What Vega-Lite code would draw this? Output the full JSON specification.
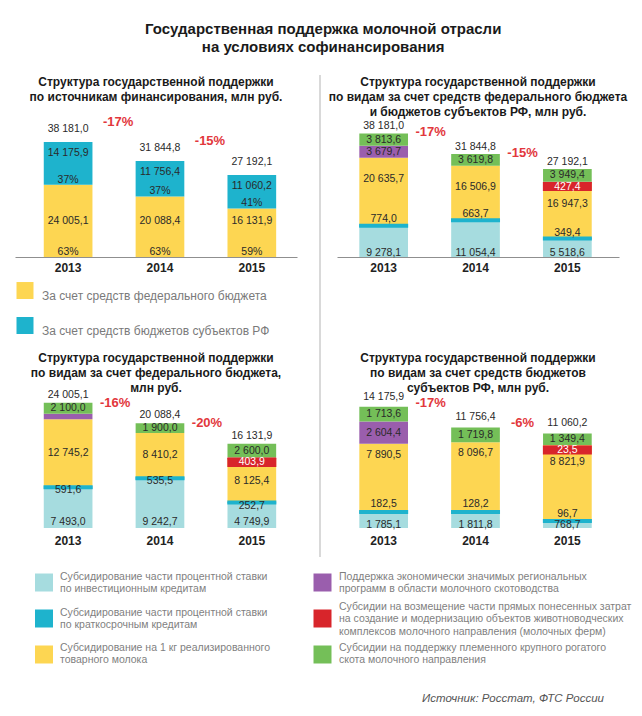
{
  "$schema": "https://vega.github.io/schema/vega-lite/v6.json",
  "padding": {"left": 15, "top": 22, "right": 5, "bottom": 5},
  "title": {"text": ["Государственная поддержка молочной отрасли", "на условиях софинансирования"], "fontSize": 15, "lineHeight": 18, "offset": 19, "anchor": "middle", "color": "#1a1a1a", "fontWeight": "bold"},
  "config": {
    "font": "Liberation Sans",
    "view": {"stroke": null},
    "locale": {"number": {"decimal": ",", "thousands": " ", "grouping": [3], "currency": ["", ""]}},
    "axisX": {"domainColor": "#8f8f8f", "domainWidth": 1, "ticks": false, "grid": false, "labelAngle": 0, "labelFontSize": 12, "labelFontWeight": "bold", "labelColor": "#222222", "labelPadding": 5},
    "text": {"fontSize": 10.5, "color": "#2a2a2a"}
  },
  "datasets": {
    "subtitles": [
      {"panel": "p1", "subtitle": "Структура государственной поддержки\nпо источникам финансирования, млн руб."},
      {"panel": "p2", "subtitle": "Структура государственной поддержки\nпо видам за счет средств федерального бюджета\nи бюджетов субъектов РФ, млн руб."},
      {"panel": "p3", "subtitle": "Структура государственной поддержки\nпо видам за счет федерального бюджета,\nмлн руб."},
      {"panel": "p4", "subtitle": "Структура государственной поддержки\nпо видам за счет средств бюджетов\nсубъектов РФ, млн руб."}
    ],
    "src": [
      {"year": "2013", "series": "fed", "value": 24005.1, "share": 0.63},
      {"year": "2013", "series": "sub", "value": 14175.9, "share": 0.37},
      {"year": "2014", "series": "fed", "value": 20088.4, "share": 0.63},
      {"year": "2014", "series": "sub", "value": 11756.4, "share": 0.37},
      {"year": "2015", "series": "fed", "value": 16131.9, "share": 0.59},
      {"year": "2015", "series": "sub", "value": 11060.2, "share": 0.41}
    ],
    "types_src": [
      {"key": "fed", "rank": 1, "label": "За счет средств федерального бюджета"},
      {"key": "sub", "rank": 2, "label": "За счет средств бюджетов субъектов РФ"}
    ],
    "types": [
      {"key": "inv", "rank": 1, "label": "Субсидирование части процентной ставки\nпо инвестиционным кредитам"},
      {"key": "short", "rank": 2, "label": "Субсидирование части процентной ставки\nпо краткосрочным кредитам"},
      {"key": "milk", "rank": 3, "label": "Субсидирование на 1 кг реализированного\nтоварного молока"},
      {"key": "reg", "rank": 4, "label": "Поддержка экономически значимых региональных\nпрограмм в области молочного скотоводства"},
      {"key": "farm", "rank": 5, "label": "Субсидии на возмещение части прямых понесенных затрат\nна создание и модернизацию объектов животноводческих\nкомплексов молочного направления (молочных ферм)"},
      {"key": "breed", "rank": 6, "label": "Субсидии на поддержку племенного крупного рогатого\nскота молочного направления"}
    ],
    "all": [
      {"year": "2013", "series": "inv", "value": 9278.1},
      {"year": "2013", "series": "short", "value": 774.0},
      {"year": "2013", "series": "milk", "value": 20635.7},
      {"year": "2013", "series": "reg", "value": 3679.7},
      {"year": "2013", "series": "breed", "value": 3813.6},
      {"year": "2014", "series": "inv", "value": 11054.4},
      {"year": "2014", "series": "short", "value": 663.7},
      {"year": "2014", "series": "milk", "value": 16506.9},
      {"year": "2014", "series": "breed", "value": 3619.8},
      {"year": "2015", "series": "inv", "value": 5518.6},
      {"year": "2015", "series": "short", "value": 349.4},
      {"year": "2015", "series": "milk", "value": 16947.3},
      {"year": "2015", "series": "farm", "value": 427.4},
      {"year": "2015", "series": "breed", "value": 3949.4}
    ],
    "fedb": [
      {"year": "2013", "series": "inv", "value": 7493.0},
      {"year": "2013", "series": "short", "value": 591.6},
      {"year": "2013", "series": "milk", "value": 12745.2},
      {"year": "2013", "series": "reg", "value": 1075.3},
      {"year": "2013", "series": "breed", "value": 2100.0},
      {"year": "2014", "series": "inv", "value": 9242.7},
      {"year": "2014", "series": "short", "value": 535.5},
      {"year": "2014", "series": "milk", "value": 8410.2},
      {"year": "2014", "series": "breed", "value": 1900.0},
      {"year": "2015", "series": "inv", "value": 4749.9},
      {"year": "2015", "series": "short", "value": 252.7},
      {"year": "2015", "series": "milk", "value": 8125.4},
      {"year": "2015", "series": "farm", "value": 403.9},
      {"year": "2015", "series": "breed", "value": 2600.0}
    ],
    "subj": [
      {"year": "2013", "series": "inv", "value": 1785.1},
      {"year": "2013", "series": "short", "value": 182.5},
      {"year": "2013", "series": "milk", "value": 7890.5},
      {"year": "2013", "series": "reg", "value": 2604.4},
      {"year": "2013", "series": "breed", "value": 1713.6},
      {"year": "2014", "series": "inv", "value": 1811.8},
      {"year": "2014", "series": "short", "value": 128.2},
      {"year": "2014", "series": "milk", "value": 8096.7},
      {"year": "2014", "series": "breed", "value": 1719.8},
      {"year": "2015", "series": "inv", "value": 768.7},
      {"year": "2015", "series": "short", "value": 96.7},
      {"year": "2015", "series": "milk", "value": 8821.9},
      {"year": "2015", "series": "farm", "value": 23.5},
      {"year": "2015", "series": "breed", "value": 1349.4}
    ],
    "totals": [
      {"panel": "p1", "year": "2013", "total": 38181.0, "change": "-17%"},
      {"panel": "p1", "year": "2014", "total": 31844.8, "change": "-15%"},
      {"panel": "p1", "year": "2015", "total": 27192.1},
      {"panel": "p2", "year": "2013", "total": 38181.0, "change": "-17%"},
      {"panel": "p2", "year": "2014", "total": 31844.8, "change": "-15%"},
      {"panel": "p2", "year": "2015", "total": 27192.1},
      {"panel": "p3", "year": "2013", "total": 24005.1, "change": "-16%"},
      {"panel": "p3", "year": "2014", "total": 20088.4, "change": "-20%"},
      {"panel": "p3", "year": "2015", "total": 16131.9},
      {"panel": "p4", "year": "2013", "total": 14175.9, "change": "-17%"},
      {"panel": "p4", "year": "2014", "total": 11756.4, "change": "-6%"},
      {"panel": "p4", "year": "2015", "total": 11060.2}
    ]
  },
  "spacing": 7,
  "vconcat": [
    {
      "spacing": 7,
      "hconcat": [
        {
          "bounds": "flush",
          "spacing": 0,
          "vconcat": [
            {
              "width": 282, "height": 43,
              "data": {"name": "subtitles"},
              "transform": [{"filter": "datum.panel === 'p1'"}],
              "mark": {"type": "text", "fontSize": 12, "fontWeight": "bold", "lineHeight": 15, "lineBreak": "\n", "color": "#1a1a1a", "dy": -14.5},
              "encoding": {"text": {"field": "subtitle", "type": "nominal"}}
            },
            {
              "width": 282, "height": 139,
              "data": {"name": "src"},
              "transform": [{"lookup": "series", "from": {"data": {"name": "types_src"}, "key": "key", "fields": ["rank"]}}],
              "layer": [
                {"mark": "bar", "encoding": {
                  "x": {"field": "year", "type": "nominal", "title": null, "scale": {"paddingInner": 0.47, "paddingOuter": 0.27, "align": 0.58}},
                  "y": {"field": "value", "type": "quantitative", "stack": "zero", "scale": {"domain": [0, 46150]}, "axis": null},
                  "order": {"field": "rank", "type": "quantitative"},
                  "color": {"field": "series", "type": "nominal", "scale": {"domain": ["fed", "sub", "inv", "short", "milk", "reg", "farm", "breed"], "range": ["#fdd652", "#1eb3cd", "#a6dcdf", "#1eb3cd", "#fdd652", "#9a5ead", "#d8252b", "#74bf58"]}, "legend": null}}},
                {"mark": {"type": "text", "dy": 11}, "encoding": {
                  "x": {"field": "year", "type": "nominal", "title": null, "scale": {"paddingInner": 0.47, "paddingOuter": 0.27, "align": 0.58}},
                  "y": {"field": "value", "type": "quantitative", "stack": "zero", "bandPosition": 1, "scale": {"domain": [0, 46150]}, "axis": null},
                  "order": {"field": "rank", "type": "quantitative"},
                  "detail": {"field": "series", "type": "nominal"},
                  "text": {"condition": {"test": "datum.series === 'sub'", "field": "value", "type": "quantitative", "format": ",.1f"}, "value": ""}}},
                {"mark": {"type": "text", "dy": -5}, "encoding": {
                  "x": {"field": "year", "type": "nominal", "title": null, "scale": {"paddingInner": 0.47, "paddingOuter": 0.27, "align": 0.58}},
                  "y": {"field": "value", "type": "quantitative", "stack": "zero", "bandPosition": 0, "scale": {"domain": [0, 46150]}, "axis": null},
                  "order": {"field": "rank", "type": "quantitative"},
                  "detail": {"field": "series", "type": "nominal"},
                  "text": {"field": "share", "type": "quantitative", "format": ".0%"}}},
                {"mark": {"type": "text", "dy": -36}, "encoding": {
                  "x": {"field": "year", "type": "nominal", "title": null, "scale": {"paddingInner": 0.47, "paddingOuter": 0.27, "align": 0.58}},
                  "y": {"field": "value", "type": "quantitative", "stack": "zero", "bandPosition": 0, "scale": {"domain": [0, 46150]}, "axis": null},
                  "order": {"field": "rank", "type": "quantitative"},
                  "detail": {"field": "series", "type": "nominal"},
                  "text": {"condition": {"test": "datum.series === 'fed'", "field": "value", "type": "quantitative", "format": ",.1f"}, "value": ""}}},
                {"data": {"name": "totals"}, "transform": [{"filter": "datum.panel === 'p1'"}],
                  "mark": {"type": "text", "dy": -13}, "encoding": {
                  "x": {"field": "year", "type": "nominal", "title": null, "scale": {"paddingInner": 0.47, "paddingOuter": 0.27, "align": 0.58}},
                  "y": {"field": "total", "type": "quantitative", "scale": {"domain": [0, 46150]}, "axis": null},
                  "text": {"field": "total", "type": "quantitative", "format": ",.1f"}}},
                {"data": {"name": "totals"}, "transform": [{"filter": "datum.panel === 'p1' && isValid(datum.change)"}],
                  "mark": {"type": "text", "dx": 50, "dy": -20, "fontSize": 13, "fontWeight": "bold", "color": "#e2373c"}, "encoding": {
                  "x": {"field": "year", "type": "nominal", "title": null, "scale": {"paddingInner": 0.47, "paddingOuter": 0.27, "align": 0.58}},
                  "y": {"field": "total", "type": "quantitative", "scale": {"domain": [0, 46150]}, "axis": null},
                  "text": {"field": "change", "type": "nominal"}}}
              ]
            },
            {
              "width": 20, "height": 93,
              "data": {"name": "types_src"},
              "layer": [
                {"mark": {"type": "point", "shape": "square", "filled": true, "size": 289, "opacity": 1}, "encoding": {
                  "y": {"field": "key", "type": "nominal", "sort": {"field": "rank"}, "axis": null, "scale": {"type": "point", "padding": 0.829, "align": 0.578}},
                  "color": {"field": "key", "type": "nominal", "scale": {"domain": ["fed", "sub", "inv", "short", "milk", "reg", "farm", "breed"], "range": ["#fdd652", "#1eb3cd", "#a6dcdf", "#1eb3cd", "#fdd652", "#9a5ead", "#d8252b", "#74bf58"]}, "legend": null}}},
                {"mark": {"type": "text", "align": "left", "dx": 17, "dy": 5, "fontSize": 12, "color": "#7a7a7a"}, "encoding": {
                  "y": {"field": "key", "type": "nominal", "sort": {"field": "rank"}, "axis": null, "scale": {"type": "point", "padding": 0.829, "align": 0.578}},
                  "text": {"field": "label", "type": "nominal"}}}
              ]
            },
            {
              "width": 282, "height": 45,
              "data": {"name": "subtitles"},
              "transform": [{"filter": "datum.panel === 'p3'"}],
              "mark": {"type": "text", "fontSize": 12, "fontWeight": "bold", "lineHeight": 15, "lineBreak": "\n", "color": "#1a1a1a", "dy": -15},
              "encoding": {"text": {"field": "subtitle", "type": "nominal"}}
            },
            {
              "width": 282, "height": 133,
              "data": {"name": "fedb"},
              "transform": [{"lookup": "series", "from": {"data": {"name": "types"}, "key": "key", "fields": ["rank"]}}],
              "layer": [
                {"mark": "bar", "encoding": {
                  "x": {"field": "year", "type": "nominal", "title": null, "axis": {"domain": false, "labelPadding": 7}, "scale": {"paddingInner": 0.47, "paddingOuter": 0.27, "align": 0.58}},
                  "y": {"field": "value", "type": "quantitative", "stack": "zero", "scale": {"domain": [0, 25480]}, "axis": null},
                  "order": {"field": "rank", "type": "quantitative"},
                  "color": {"field": "series", "type": "nominal", "scale": {"domain": ["fed", "sub", "inv", "short", "milk", "reg", "farm", "breed"], "range": ["#fdd652", "#1eb3cd", "#a6dcdf", "#1eb3cd", "#fdd652", "#9a5ead", "#d8252b", "#74bf58"]}, "legend": null}}},
                {"mark": {"type": "tick", "thickness": 4, "size": 49, "color": "#1eb3cd"}, "encoding": {
                  "x": {"field": "year", "type": "nominal", "title": null, "axis": {"domain": false, "labelPadding": 7}, "scale": {"paddingInner": 0.47, "paddingOuter": 0.27, "align": 0.58}},
                  "y": {"field": "value", "type": "quantitative", "stack": "zero", "bandPosition": 0.5, "scale": {"domain": [0, 25480]}, "axis": null},
                  "order": {"field": "rank", "type": "quantitative"},
                  "detail": {"field": "series", "type": "nominal"},
                  "opacity": {"condition": {"test": "datum.series === 'short'", "value": 1}, "value": 0}}},
                {"mark": {"type": "tick", "thickness": 9, "size": 49, "yOffset": 4, "color": "#d8252b"}, "encoding": {
                  "x": {"field": "year", "type": "nominal", "title": null, "axis": {"domain": false, "labelPadding": 7}, "scale": {"paddingInner": 0.47, "paddingOuter": 0.27, "align": 0.58}},
                  "y": {"field": "value", "type": "quantitative", "stack": "zero", "bandPosition": 0.5, "scale": {"domain": [0, 25480]}, "axis": null},
                  "order": {"field": "rank", "type": "quantitative"},
                  "detail": {"field": "series", "type": "nominal"},
                  "opacity": {"condition": {"test": "datum.series === 'farm'", "value": 1}, "value": 0}}},
                {"mark": {"type": "text", "dy": 0}, "encoding": {
                  "x": {"field": "year", "type": "nominal", "title": null, "axis": {"domain": false, "labelPadding": 7}, "scale": {"paddingInner": 0.47, "paddingOuter": 0.27, "align": 0.58}},
                  "y": {"field": "value", "type": "quantitative", "stack": "zero", "bandPosition": 0.5, "scale": {"domain": [0, 25480]}, "axis": null},
                  "order": {"field": "rank", "type": "quantitative"},
                  "detail": {"field": "series", "type": "nominal"},
                  "text": {"condition": {"test": "datum.series === 'breed' || datum.series === 'milk'", "field": "value", "type": "quantitative", "format": ",.1f"}, "value": ""}}},
                {"mark": {"type": "text", "dy": 3}, "encoding": {
                  "x": {"field": "year", "type": "nominal", "title": null, "axis": {"domain": false, "labelPadding": 7}, "scale": {"paddingInner": 0.47, "paddingOuter": 0.27, "align": 0.58}},
                  "y": {"field": "value", "type": "quantitative", "stack": "zero", "bandPosition": 0.5, "scale": {"domain": [0, 25480]}, "axis": null},
                  "order": {"field": "rank", "type": "quantitative"},
                  "detail": {"field": "series", "type": "nominal"},
                  "text": {"condition": {"test": "datum.series === 'short'", "field": "value", "type": "quantitative", "format": ",.1f"}, "value": ""}}},
                {"mark": {"type": "text", "dy": -6}, "encoding": {
                  "x": {"field": "year", "type": "nominal", "title": null, "axis": {"domain": false, "labelPadding": 7}, "scale": {"paddingInner": 0.47, "paddingOuter": 0.27, "align": 0.58}},
                  "y": {"field": "value", "type": "quantitative", "stack": "zero", "bandPosition": 0, "scale": {"domain": [0, 25480]}, "axis": null},
                  "order": {"field": "rank", "type": "quantitative"},
                  "detail": {"field": "series", "type": "nominal"},
                  "text": {"condition": {"test": "datum.series === 'inv'", "field": "value", "type": "quantitative", "format": ",.1f"}, "value": ""}}},
                {"mark": {"type": "text", "dy": 4, "color": "#ffffff"}, "encoding": {
                  "x": {"field": "year", "type": "nominal", "title": null, "axis": {"domain": false, "labelPadding": 7}, "scale": {"paddingInner": 0.47, "paddingOuter": 0.27, "align": 0.58}},
                  "y": {"field": "value", "type": "quantitative", "stack": "zero", "bandPosition": 0.5, "scale": {"domain": [0, 25480]}, "axis": null},
                  "order": {"field": "rank", "type": "quantitative"},
                  "detail": {"field": "series", "type": "nominal"},
                  "text": {"condition": {"test": "datum.series === 'farm'", "field": "value", "type": "quantitative", "format": ",.1f"}, "value": ""}}},
                {"data": {"name": "totals"}, "transform": [{"filter": "datum.panel === 'p3'"}],
                  "mark": {"type": "text", "dy": -8}, "encoding": {
                  "x": {"field": "year", "type": "nominal", "title": null, "axis": {"domain": false, "labelPadding": 7}, "scale": {"paddingInner": 0.47, "paddingOuter": 0.27, "align": 0.58}},
                  "y": {"field": "total", "type": "quantitative", "scale": {"domain": [0, 25480]}, "axis": null},
                  "text": {"field": "total", "type": "quantitative", "format": ",.1f"}}},
                {"data": {"name": "totals"}, "transform": [{"filter": "datum.panel === 'p3' && isValid(datum.change)"}],
                  "mark": {"type": "text", "dx": 47, "dy": 0, "fontSize": 13, "fontWeight": "bold", "color": "#e2373c"}, "encoding": {
                  "x": {"field": "year", "type": "nominal", "title": null, "axis": {"domain": false, "labelPadding": 7}, "scale": {"paddingInner": 0.47, "paddingOuter": 0.27, "align": 0.58}},
                  "y": {"field": "total", "type": "quantitative", "scale": {"domain": [0, 25480]}, "axis": null},
                  "text": {"field": "change", "type": "nominal"}}}
              ]
            }
          ]
        },
        {
          "width": 16, "height": 482,
          "data": {"values": [{"element": "divider"}]},
          "mark": {"type": "rule", "color": "#cccccc", "strokeWidth": 1.5},
          "encoding": {"x": {"datum": 1, "type": "quantitative", "scale": {"domain": [0, 1]}, "axis": null}}
        },
        {
          "bounds": "flush",
          "spacing": 0,
          "vconcat": [
            {
              "width": 282, "height": 44,
              "data": {"name": "subtitles"},
              "transform": [{"filter": "datum.panel === 'p2'"}],
              "mark": {"type": "text", "fontSize": 12, "fontWeight": "bold", "lineHeight": 15, "lineBreak": "\n", "color": "#1a1a1a", "dy": -15},
              "encoding": {"text": {"field": "subtitle", "type": "nominal"}}
            },
            {
              "width": 282, "height": 138,
              "data": {"name": "all"},
              "transform": [{"lookup": "series", "from": {"data": {"name": "types"}, "key": "key", "fields": ["rank"]}}],
              "layer": [
                {"mark": "bar", "encoding": {
                  "x": {"field": "year", "type": "nominal", "title": null, "scale": {"paddingInner": 0.47, "paddingOuter": 0.27, "align": 0.45}},
                  "y": {"field": "value", "type": "quantitative", "stack": "zero", "scale": {"domain": [0, 42660]}, "axis": null},
                  "order": {"field": "rank", "type": "quantitative"},
                  "color": {"field": "series", "type": "nominal", "scale": {"domain": ["fed", "sub", "inv", "short", "milk", "reg", "farm", "breed"], "range": ["#fdd652", "#1eb3cd", "#a6dcdf", "#1eb3cd", "#fdd652", "#9a5ead", "#d8252b", "#74bf58"]}, "legend": null}}},
                {"mark": {"type": "tick", "thickness": 4, "size": 49, "color": "#1eb3cd"}, "encoding": {
                  "x": {"field": "year", "type": "nominal", "title": null, "scale": {"paddingInner": 0.47, "paddingOuter": 0.27, "align": 0.45}},
                  "y": {"field": "value", "type": "quantitative", "stack": "zero", "bandPosition": 0.5, "scale": {"domain": [0, 42660]}, "axis": null},
                  "order": {"field": "rank", "type": "quantitative"},
                  "detail": {"field": "series", "type": "nominal"},
                  "opacity": {"condition": {"test": "datum.series === 'short'", "value": 1}, "value": 0}}},
                {"mark": {"type": "tick", "thickness": 9, "size": 49, "yOffset": 4, "color": "#d8252b"}, "encoding": {
                  "x": {"field": "year", "type": "nominal", "title": null, "scale": {"paddingInner": 0.47, "paddingOuter": 0.27, "align": 0.45}},
                  "y": {"field": "value", "type": "quantitative", "stack": "zero", "bandPosition": 0.5, "scale": {"domain": [0, 42660]}, "axis": null},
                  "order": {"field": "rank", "type": "quantitative"},
                  "detail": {"field": "series", "type": "nominal"},
                  "opacity": {"condition": {"test": "datum.series === 'farm'", "value": 1}, "value": 0}}},
                {"mark": {"type": "text", "dy": 0}, "encoding": {
                  "x": {"field": "year", "type": "nominal", "title": null, "scale": {"paddingInner": 0.47, "paddingOuter": 0.27, "align": 0.45}},
                  "y": {"field": "value", "type": "quantitative", "stack": "zero", "bandPosition": 0.5, "scale": {"domain": [0, 42660]}, "axis": null},
                  "order": {"field": "rank", "type": "quantitative"},
                  "detail": {"field": "series", "type": "nominal"},
                  "text": {"condition": {"test": "datum.series === 'breed' || datum.series === 'reg'", "field": "value", "type": "quantitative", "format": ",.1f"}, "value": ""}}},
                {"mark": {"type": "text", "dy": 21}, "encoding": {
                  "x": {"field": "year", "type": "nominal", "title": null, "scale": {"paddingInner": 0.47, "paddingOuter": 0.27, "align": 0.45}},
                  "y": {"field": "value", "type": "quantitative", "stack": "zero", "bandPosition": 1, "scale": {"domain": [0, 42660]}, "axis": null},
                  "order": {"field": "rank", "type": "quantitative"},
                  "detail": {"field": "series", "type": "nominal"},
                  "text": {"condition": {"test": "datum.series === 'milk'", "field": "value", "type": "quantitative", "format": ",.1f"}, "value": ""}}},
                {"mark": {"type": "text", "dy": -5}, "encoding": {
                  "x": {"field": "year", "type": "nominal", "title": null, "scale": {"paddingInner": 0.47, "paddingOuter": 0.27, "align": 0.45}},
                  "y": {"field": "value", "type": "quantitative", "stack": "zero", "bandPosition": 1, "scale": {"domain": [0, 42660]}, "axis": null},
                  "order": {"field": "rank", "type": "quantitative"},
                  "detail": {"field": "series", "type": "nominal"},
                  "text": {"condition": {"test": "datum.series === 'short'", "field": "value", "type": "quantitative", "format": ",.1f"}, "value": ""}}},
                {"mark": {"type": "text", "dy": -4}, "encoding": {
                  "x": {"field": "year", "type": "nominal", "title": null, "scale": {"paddingInner": 0.47, "paddingOuter": 0.27, "align": 0.45}},
                  "y": {"field": "value", "type": "quantitative", "stack": "zero", "bandPosition": 0, "scale": {"domain": [0, 42660]}, "axis": null},
                  "order": {"field": "rank", "type": "quantitative"},
                  "detail": {"field": "series", "type": "nominal"},
                  "text": {"condition": {"test": "datum.series === 'inv'", "field": "value", "type": "quantitative", "format": ",.1f"}, "value": ""}}},
                {"mark": {"type": "text", "dy": 4, "color": "#ffffff"}, "encoding": {
                  "x": {"field": "year", "type": "nominal", "title": null, "scale": {"paddingInner": 0.47, "paddingOuter": 0.27, "align": 0.45}},
                  "y": {"field": "value", "type": "quantitative", "stack": "zero", "bandPosition": 0.5, "scale": {"domain": [0, 42660]}, "axis": null},
                  "order": {"field": "rank", "type": "quantitative"},
                  "detail": {"field": "series", "type": "nominal"},
                  "text": {"condition": {"test": "datum.series === 'farm'", "field": "value", "type": "quantitative", "format": ",.1f"}, "value": ""}}},
                {"data": {"name": "totals"}, "transform": [{"filter": "datum.panel === 'p2'"}],
                  "mark": {"type": "text", "dy": -7}, "encoding": {
                  "x": {"field": "year", "type": "nominal", "title": null, "scale": {"paddingInner": 0.47, "paddingOuter": 0.27, "align": 0.45}},
                  "y": {"field": "total", "type": "quantitative", "scale": {"domain": [0, 42660]}, "axis": null},
                  "text": {"field": "total", "type": "quantitative", "format": ",.1f"}}},
                {"data": {"name": "totals"}, "transform": [{"filter": "datum.panel === 'p2' && isValid(datum.change)"}],
                  "mark": {"type": "text", "dx": 47, "dy": -1, "fontSize": 13, "fontWeight": "bold", "color": "#e2373c"}, "encoding": {
                  "x": {"field": "year", "type": "nominal", "title": null, "scale": {"paddingInner": 0.47, "paddingOuter": 0.27, "align": 0.45}},
                  "y": {"field": "total", "type": "quantitative", "scale": {"domain": [0, 42660]}, "axis": null},
                  "text": {"field": "change", "type": "nominal"}}}
              ]
            },
            {
              "width": 282, "height": 138,
              "data": {"name": "subtitles"},
              "transform": [{"filter": "datum.panel === 'p4'"}],
              "mark": {"type": "text", "fontSize": 12, "fontWeight": "bold", "lineHeight": 15, "lineBreak": "\n", "color": "#1a1a1a", "dy": 31.5},
              "encoding": {"text": {"field": "subtitle", "type": "nominal"}}
            },
            {
              "width": 282, "height": 133,
              "data": {"name": "subj"},
              "transform": [{"lookup": "series", "from": {"data": {"name": "types"}, "key": "key", "fields": ["rank"]}}],
              "layer": [
                {"mark": "bar", "encoding": {
                  "x": {"field": "year", "type": "nominal", "title": null, "axis": {"domain": false, "labelPadding": 7}, "scale": {"paddingInner": 0.47, "paddingOuter": 0.27, "align": 0.45}},
                  "y": {"field": "value", "type": "quantitative", "stack": "zero", "scale": {"domain": [0, 15556]}, "axis": null},
                  "order": {"field": "rank", "type": "quantitative"},
                  "color": {"field": "series", "type": "nominal", "scale": {"domain": ["fed", "sub", "inv", "short", "milk", "reg", "farm", "breed"], "range": ["#fdd652", "#1eb3cd", "#a6dcdf", "#1eb3cd", "#fdd652", "#9a5ead", "#d8252b", "#74bf58"]}, "legend": null}}},
                {"mark": {"type": "tick", "thickness": 4, "size": 49, "color": "#1eb3cd"}, "encoding": {
                  "x": {"field": "year", "type": "nominal", "title": null, "axis": {"domain": false, "labelPadding": 7}, "scale": {"paddingInner": 0.47, "paddingOuter": 0.27, "align": 0.45}},
                  "y": {"field": "value", "type": "quantitative", "stack": "zero", "bandPosition": 0.5, "scale": {"domain": [0, 15556]}, "axis": null},
                  "order": {"field": "rank", "type": "quantitative"},
                  "detail": {"field": "series", "type": "nominal"},
                  "opacity": {"condition": {"test": "datum.series === 'short'", "value": 1}, "value": 0}}},
                {"mark": {"type": "tick", "thickness": 9, "size": 49, "yOffset": 5, "color": "#d8252b"}, "encoding": {
                  "x": {"field": "year", "type": "nominal", "title": null, "axis": {"domain": false, "labelPadding": 7}, "scale": {"paddingInner": 0.47, "paddingOuter": 0.27, "align": 0.45}},
                  "y": {"field": "value", "type": "quantitative", "stack": "zero", "bandPosition": 0.5, "scale": {"domain": [0, 15556]}, "axis": null},
                  "order": {"field": "rank", "type": "quantitative"},
                  "detail": {"field": "series", "type": "nominal"},
                  "opacity": {"condition": {"test": "datum.series === 'farm'", "value": 1}, "value": 0}}},
                {"mark": {"type": "text", "dy": 0}, "encoding": {
                  "x": {"field": "year", "type": "nominal", "title": null, "axis": {"domain": false, "labelPadding": 7}, "scale": {"paddingInner": 0.47, "paddingOuter": 0.27, "align": 0.45}},
                  "y": {"field": "value", "type": "quantitative", "stack": "zero", "bandPosition": 0.5, "scale": {"domain": [0, 15556]}, "axis": null},
                  "order": {"field": "rank", "type": "quantitative"},
                  "detail": {"field": "series", "type": "nominal"},
                  "text": {"condition": {"test": "datum.series === 'breed' || datum.series === 'reg'", "field": "value", "type": "quantitative", "format": ",.1f"}, "value": ""}}},
                {"mark": {"type": "text", "dy": 11}, "encoding": {
                  "x": {"field": "year", "type": "nominal", "title": null, "axis": {"domain": false, "labelPadding": 7}, "scale": {"paddingInner": 0.47, "paddingOuter": 0.27, "align": 0.45}},
                  "y": {"field": "value", "type": "quantitative", "stack": "zero", "bandPosition": 1, "scale": {"domain": [0, 15556]}, "axis": null},
                  "order": {"field": "rank", "type": "quantitative"},
                  "detail": {"field": "series", "type": "nominal"},
                  "text": {"condition": {"test": "datum.series === 'milk' && datum.year !== '2015'", "field": "value", "type": "quantitative", "format": ",.1f"}, "value": ""}}},
                {"mark": {"type": "text", "dy": 17}, "encoding": {
                  "x": {"field": "year", "type": "nominal", "title": null, "axis": {"domain": false, "labelPadding": 7}, "scale": {"paddingInner": 0.47, "paddingOuter": 0.27, "align": 0.45}},
                  "y": {"field": "value", "type": "quantitative", "stack": "zero", "bandPosition": 1, "scale": {"domain": [0, 15556]}, "axis": null},
                  "order": {"field": "rank", "type": "quantitative"},
                  "detail": {"field": "series", "type": "nominal"},
                  "text": {"condition": {"test": "datum.series === 'milk' && datum.year === '2015'", "field": "value", "type": "quantitative", "format": ",.1f"}, "value": ""}}},
                {"mark": {"type": "text", "dy": -7}, "encoding": {
                  "x": {"field": "year", "type": "nominal", "title": null, "axis": {"domain": false, "labelPadding": 7}, "scale": {"paddingInner": 0.47, "paddingOuter": 0.27, "align": 0.45}},
                  "y": {"field": "value", "type": "quantitative", "stack": "zero", "bandPosition": 1, "scale": {"domain": [0, 15556]}, "axis": null},
                  "order": {"field": "rank", "type": "quantitative"},
                  "detail": {"field": "series", "type": "nominal"},
                  "text": {"condition": {"test": "datum.series === 'short'", "field": "value", "type": "quantitative", "format": ",.1f"}, "value": ""}}},
                {"mark": {"type": "text", "dy": -3}, "encoding": {
                  "x": {"field": "year", "type": "nominal", "title": null, "axis": {"domain": false, "labelPadding": 7}, "scale": {"paddingInner": 0.47, "paddingOuter": 0.27, "align": 0.45}},
                  "y": {"field": "value", "type": "quantitative", "stack": "zero", "bandPosition": 0, "scale": {"domain": [0, 15556]}, "axis": null},
                  "order": {"field": "rank", "type": "quantitative"},
                  "detail": {"field": "series", "type": "nominal"},
                  "text": {"condition": {"test": "datum.series === 'inv'", "field": "value", "type": "quantitative", "format": ",.1f"}, "value": ""}}},
                {"mark": {"type": "text", "dy": 5, "color": "#ffffff"}, "encoding": {
                  "x": {"field": "year", "type": "nominal", "title": null, "axis": {"domain": false, "labelPadding": 7}, "scale": {"paddingInner": 0.47, "paddingOuter": 0.27, "align": 0.45}},
                  "y": {"field": "value", "type": "quantitative", "stack": "zero", "bandPosition": 0.5, "scale": {"domain": [0, 15556]}, "axis": null},
                  "order": {"field": "rank", "type": "quantitative"},
                  "detail": {"field": "series", "type": "nominal"},
                  "text": {"condition": {"test": "datum.series === 'farm'", "field": "value", "type": "quantitative", "format": ",.1f"}, "value": ""}}},
                {"data": {"name": "totals"}, "transform": [{"filter": "datum.panel === 'p4'"}],
                  "mark": {"type": "text", "dy": -10}, "encoding": {
                  "x": {"field": "year", "type": "nominal", "title": null, "axis": {"domain": false, "labelPadding": 7}, "scale": {"paddingInner": 0.47, "paddingOuter": 0.27, "align": 0.45}},
                  "y": {"field": "total", "type": "quantitative", "scale": {"domain": [0, 15556]}, "axis": null},
                  "text": {"field": "total", "type": "quantitative", "format": ",.1f"}}},
                {"data": {"name": "totals"}, "transform": [{"filter": "datum.panel === 'p4' && isValid(datum.change)"}],
                  "mark": {"type": "text", "dx": 47, "dy": -4, "fontSize": 13, "fontWeight": "bold", "color": "#e2373c"}, "encoding": {
                  "x": {"field": "year", "type": "nominal", "title": null, "axis": {"domain": false, "labelPadding": 7}, "scale": {"paddingInner": 0.47, "paddingOuter": 0.27, "align": 0.45}},
                  "y": {"field": "total", "type": "quantitative", "scale": {"domain": [0, 15556]}, "axis": null},
                  "text": {"field": "change", "type": "nominal"}}}
              ]
            }
          ]
        }
      ]
    },
    {
      "bounds": "flush",
      "spacing": 239.5,
      "hconcat": [
        {
          "width": 58, "height": 91,
          "data": {"name": "types"},
          "transform": [{"filter": "datum.rank <= 3"}],
          "layer": [
            {"mark": {"type": "point", "shape": "square", "filled": true, "size": 324, "opacity": 1}, "encoding": {
              "y": {"field": "key", "type": "nominal", "sort": {"field": "rank"}, "axis": null, "scale": {"type": "point", "padding": 0.264, "align": 0.5}},
              "color": {"field": "key", "type": "nominal", "scale": {"domain": ["fed", "sub", "inv", "short", "milk", "reg", "farm", "breed"], "range": ["#fdd652", "#1eb3cd", "#a6dcdf", "#1eb3cd", "#fdd652", "#9a5ead", "#d8252b", "#74bf58"]}, "legend": null}}},
            {"mark": {"type": "text", "align": "left", "dx": 16, "dy": -6, "fontSize": 10.5, "lineHeight": 12, "lineBreak": "\n", "color": "#7f7f7f"}, "encoding": {
              "y": {"field": "key", "type": "nominal", "sort": {"field": "rank"}, "axis": null, "scale": {"type": "point", "padding": 0.264, "align": 0.5}},
              "text": {"field": "label", "type": "nominal"}}}
          ]
        },
        {
          "width": 20, "height": 91,
          "title": {"text": "Источник: Росстат, ФТС России", "orient": "bottom", "anchor": "start", "frame": "group", "dx": 109.5, "offset": 27, "fontSize": 11.5, "fontStyle": "italic", "fontWeight": "normal", "color": "#555555"},
          "data": {"name": "types"},
          "transform": [{"filter": "datum.rank >= 4"}],
          "layer": [
            {"mark": {"type": "point", "shape": "square", "filled": true, "size": 324, "opacity": 1}, "encoding": {
              "y": {"field": "key", "type": "nominal", "sort": {"field": "rank"}, "axis": null, "scale": {"type": "point", "padding": 0.264, "align": 0.5}},
              "color": {"field": "key", "type": "nominal", "scale": {"domain": ["fed", "sub", "inv", "short", "milk", "reg", "farm", "breed"], "range": ["#fdd652", "#1eb3cd", "#a6dcdf", "#1eb3cd", "#fdd652", "#9a5ead", "#d8252b", "#74bf58"]}, "legend": null}}},
            {"mark": {"type": "text", "align": "left", "dx": 16.5, "dy": -6, "fontSize": 10.5, "lineHeight": 12, "lineBreak": "\n", "color": "#7f7f7f"}, "encoding": {
              "y": {"field": "key", "type": "nominal", "sort": {"field": "rank"}, "axis": null, "scale": {"type": "point", "padding": 0.264, "align": 0.5}},
              "text": {"condition": {"test": "datum.key !== 'farm'", "field": "label", "type": "nominal"}, "value": ""}}},
            {"mark": {"type": "text", "align": "left", "dx": 16.5, "dy": -12, "fontSize": 10.5, "lineHeight": 12.5, "lineBreak": "\n", "color": "#7f7f7f"}, "encoding": {
              "y": {"field": "key", "type": "nominal", "sort": {"field": "rank"}, "axis": null, "scale": {"type": "point", "padding": 0.264, "align": 0.5}},
              "text": {"condition": {"test": "datum.key === 'farm'", "field": "label", "type": "nominal"}, "value": ""}}}
          ]
        }
      ]
    }
  ]
}
